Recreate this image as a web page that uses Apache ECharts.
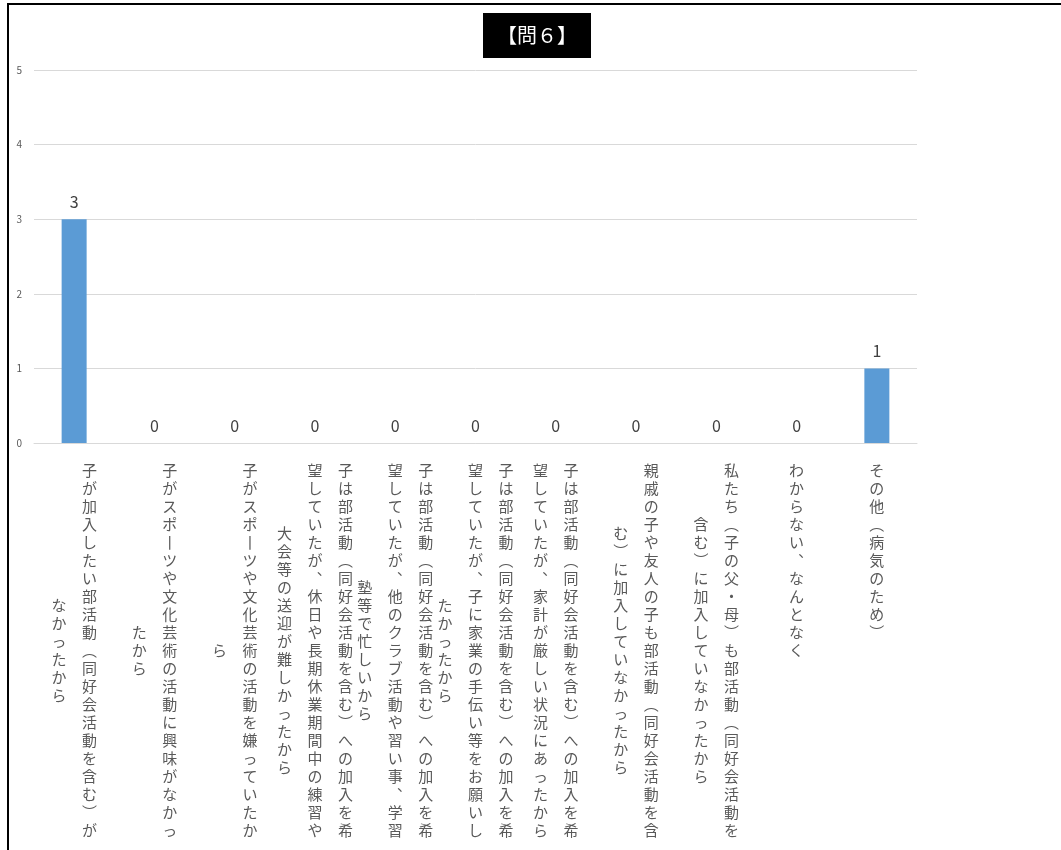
<!DOCTYPE html>
<html>
<head>
<meta charset="utf-8">
<script src="https://cdn.jsdelivr.net/npm/echarts@6/dist/echarts.min.js"></script>
<style>
  html, body { margin: 0; padding: 0; background: #fff; }
  #wrap { position: relative; width: 1061px; height: 850px; overflow: hidden; }
  #frame { position: absolute; left: 7px; top: 3px; right: -10px; bottom: -10px;
           border-left: 2px solid #000; border-top: 2px solid #000; }
  #chart { position: absolute; left: 0; top: 0; width: 1061px; height: 850px; }
</style>
</head>
<body>
<div id="wrap">
  <div id="frame"></div>
  <div id="chart"></div>
</div>
<script>
// Answer options for question 6
const categories = [
  '子が加入したい部活動（同好会活動を含む）がなかったから',
  '子がスポーツや文化芸術の活動に興味がなかったから',
  '子がスポーツや文化芸術の活動を嫌っていたから',
  '子は部活動（同好会活動を含む）への加入を希望していたが、休日や長期休業期間中の練習や大会等の送迎が難しかったから',
  '子は部活動（同好会活動を含む）への加入を希望していたが、他のクラブ活動や習い事、学習塾等で忙しいから',
  '子は部活動（同好会活動を含む）への加入を希望していたが、子に家業の手伝い等をお願いしたかったから',
  '子は部活動（同好会活動を含む）への加入を希望していたが、家計が厳しい状況にあったから',
  '親戚の子や友人の子も部活動（同好会活動を含む）に加入していなかったから',
  '私たち（子の父・母）も部活動（同好会活動を含む）に加入していなかったから',
  'わからない、なんとなく',
  'その他（病気のため）'
];
// Number of responses per option
const counts = [3, 0, 0, 0, 0, 0, 0, 0, 0, 0, 1];
// Value axis ticks
const yTicks = [0, 1, 2, 3, 4, 5];

const titleText = '【問６】';
const COL_CHARS = 21;      // characters per vertical column
const TEXT_COLOR = '#595959';

// Glyphs used when writing top-to-bottom
const verticalForms = { '（': '︵', '）': '︶', '、': '︑', 'ー': '丨' };

// Build a top-to-bottom, right-to-left label from rich-text rows.
// Each row is half a character tall so shorter columns can be centred.
function verticalLabel(text) {
  const chars = Array.from(text).map(ch => verticalForms[ch] || ch);
  const cols = [];
  for (let i = 0; i < chars.length; i += COL_CHARS) cols.push(chars.slice(i, i + COL_CHARS));
  const n = cols[0].length;
  const rows = [];
  for (let r = 0; r < 2 * n - 1; r++) {
    const cells = cols.slice().reverse().map(col => {
      const off = n - col.length;
      const k = r - off;
      if (k >= 0 && k % 2 === 0 && k / 2 < col.length) return col[k / 2];
      return '　';
    });
    rows.push(cells.map(ch => '{c|' + ch + '}').join(''));
  }
  return rows.join('\n');
}

const chart = echarts.init(document.getElementById('chart'), null, { renderer: 'canvas' });

chart.setOption({
  backgroundColor: 'transparent',
  animation: false,
  textStyle: { fontFamily: '"Noto Sans CJK JP", "Noto Sans", sans-serif' },
  title: {
    text: titleText,
    left: 483,
    top: 13,
    backgroundColor: '#000',
    padding: [12, 14, 13, 14],
    textStyle: { color: '#fff', fontSize: 20, fontWeight: 'normal',
                 fontFamily: '"Noto Sans CJK JP", sans-serif' }
  },
  grid: { left: 34, right: 144, top: 70, bottom: 407, containLabel: false, outerBoundsMode: 'none' },
  xAxis: {
    type: 'category',
    data: categories,
    axisLine: { show: true, lineStyle: { color: '#D9D9D9', width: 1 } },
    axisTick: { show: false },
    axisLabel: {
      interval: 0,
      margin: 23,
      align: 'center',
      verticalAlign: 'top',
      formatter: v => verticalLabel(v),
      rich: {
        c: { width: 30.5, align: 'center', fontSize: 15, lineHeight: 9, color: TEXT_COLOR,
             fontFamily: '"Noto Sans CJK JP", sans-serif' }
      }
    }
  },
  yAxis: {
    type: 'value',
    min: yTicks[0],
    max: yTicks[yTicks.length - 1],
    interval: 1,
    axisLine: { show: false },
    axisTick: { show: false },
    splitLine: { lineStyle: { color: '#D9D9D9', width: 1 } },
    axisLabel: { fontSize: 10, color: TEXT_COLOR, margin: 12 }
  },
  series: [{
    type: 'bar',
    data: counts,
    barWidth: 25,
    itemStyle: { color: '#5B9BD5' },
    label: { show: true, position: 'top', distance: 9, fontSize: 16, color: '#404040' }
  }]
});
</script>
</body>
</html>
